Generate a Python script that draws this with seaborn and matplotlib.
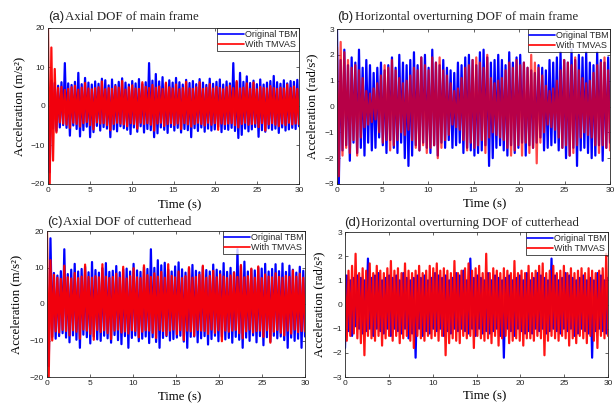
import matplotlib
matplotlib.use("Agg")
import matplotlib.pyplot as plt
import numpy as np
import seaborn as sns

# ---- data (150 samples over 0-30 s) ----
n_samples = 150
time_s = np.linspace(0, 30, n_samples)

axial_frame_orig = [
    0.0, -17.0, 6.5, -5.8, 5.9, -6.4, 5.2, -5.5, 6.1, -4.9, 11.0, -5.6, 5.8, -7.6, 5.4,
    -5.0, 6.2, -5.9, 8.5, -7.8, 5.6, -6.2, 7.2, -5.3, 6.0, -8.0, 5.5, -6.7, 6.3, -5.1,
    5.7, -6.3, 7.0, -5.4, 6.6, -5.8, 5.3, -8.0, 6.8, -6.0, 5.4, -6.5, 6.2, -5.2, 7.1,
    -5.7, 6.0, -6.1, 5.5, -7.2, 6.4, -5.5, 5.8, -6.6, 6.9, -5.2, 5.6, -6.8, 6.1, -5.9,
    11.0, -6.2, 6.5, -8.0, 8.2, -7.0, 6.3, -5.5, 7.4, -6.1, 5.7, -6.9, 6.6, -5.4, 6.0,
    -6.3, 7.2, -5.6, 6.1, -6.8, 5.5, -5.9, 6.7, -6.2, 5.9, -8.0, 6.4, -5.7, 5.6, -6.4,
    6.9, -5.5, 6.0, -6.6, 5.4, -5.8, 7.0, -6.3, 5.7, -6.0, 6.2, -5.3, 6.8, -6.7, 5.5,
    -5.9, 6.3, -6.1, 5.8, -5.6, 11.0, -6.4, 6.1, -8.2, 8.5, -7.4, 6.2, -5.8, 7.6, -6.5,
    5.9, -6.0, 6.5, -5.4, 5.6, -7.9, 6.8, -6.2, 5.5, -6.6, 6.0, -5.7, 6.4, -6.1, 7.7,
    -5.8, 6.1, -6.9, 5.7, -5.5, 6.6, -6.3, 5.8, -6.0, 6.4, -5.6, 6.2, -5.9, 6.7, -5.2,
]
axial_frame_tmvas = [
    20.0, -20.0, 15.0, -14.0, 9.5, -6.8, 4.6, -4.2, 4.9, -4.5, 4.1, -4.8, 4.4, -5.6, 4.8,
    -4.3, 5.2, -4.6, 4.2, -5.3, 4.7, -4.4, 5.9, -4.1, 4.5, -4.9, 4.3, -6.0, 4.6, -4.2,
    4.8, -4.5, 6.3, -4.4, 4.3, -4.9, 4.6, -6.2, 4.4, -4.6, 5.0, -4.3, 4.7, -4.5, 6.4,
    -4.7, 4.2, -5.2, 4.8, -4.4, 5.3, -4.6, 4.5, -5.8, 4.4, -4.3, 6.1, -4.6, 4.9, -4.4,
    4.6, -4.8, 5.4, -6.3, 4.7, -4.5, 5.0, -4.3, 4.4, -5.1, 6.0, -4.6, 4.8, -4.4, 4.5,
    -4.9, 5.5, -4.5, 4.3, -5.9, 4.6, -4.4, 6.2, -4.7, 4.5, -5.3, 4.4, -4.6, 4.8, -4.3,
    6.1, -4.6, 4.4, -5.0, 4.7, -4.3, 5.6, -4.8, 4.5, -4.4, 4.9, -6.1, 4.6, -4.5, 4.3,
    -4.7, 4.8, -4.5, 5.2, -4.4, 4.6, -4.9, 6.4, -5.5, 4.5, -4.6, 4.7, -4.3, 5.8, -4.8,
    4.4, -4.6, 6.0, -4.5, 4.3, -5.4, 4.9, -4.4, 4.6, -6.3, 4.5, -4.7, 5.1, -4.4, 4.6,
    -4.8, 4.4, -5.2, 4.7, -4.5, 4.5, -4.9, 5.5, -4.3, 4.6, -4.7, 5.0, -4.5, 4.4, -4.6,
]

horiz_frame_orig = [
    3.0, -3.0, 1.8, -1.7, 2.2, -1.5, 1.6, -2.1, 1.9, -1.4, 1.7, -1.8, 2.2, -1.6, 1.5,
    -1.9, 1.8, -1.4, 1.6, -1.7, 1.3, -1.6, 1.5, -1.2, 1.7, -1.5, 1.4, -1.8, 1.6, -1.3,
    1.9, -1.6, 1.5, -1.8, 2.0, -1.4, 1.7, -2.0, 1.6, -2.3, 1.8, -1.9, 2.1, -1.5, 1.6,
    -1.7, 1.9, -1.4, 2.0, -1.6, 1.5, -1.8, 2.2, -1.5, 1.7, -1.9, 1.6, -1.4, 1.8, -1.6,
    1.5, -1.3, 1.4, -1.6, 1.3, -1.5, 1.7, -1.4, 1.6, -1.8, 1.9, -1.6, 2.0, -1.7, 1.8,
    -1.9, 1.6, -1.8, 2.1, -1.7, 2.2, -1.5, 1.9, -2.3, 1.7, -2.0, 1.8, -1.6, 2.0, -1.5,
    1.8, -1.7, 1.6, -1.9, 2.1, -1.5, 1.7, -1.8, 1.9, -1.6, 2.0, -1.4, 1.7, -1.9, 1.5,
    -1.5, 1.4, -1.6, 1.3, -1.4, 1.6, -1.2, 1.5, -1.7, 1.4, -1.6, 1.8, -1.5, 1.7, -1.4,
    1.9, -1.7, 2.1, -1.6, 1.8, -2.0, 1.7, -1.9, 2.2, -1.6, 1.8, -2.3, 2.0, -1.7, 1.9,
    -1.6, 2.1, -1.8, 1.7, -2.0, 1.6, -1.9, 2.1, -1.5, 1.8, -2.1, 1.7, -1.6, 1.9, -1.4,
]
horiz_frame_tmvas = [
    2.3, -2.7, 2.5, -1.9, 2.1, -1.6, 1.8, -1.8, 1.5, -1.3, 1.6, -1.9, 1.4, -1.2, 1.1,
    -0.8, 0.6, -0.7, 0.5, -0.6, 0.7, -0.5, 0.9, -1.0, 1.2, -1.4, 1.6, -1.3, 1.5, -1.7,
    1.8, -1.5, 1.4, -1.3, 1.1, -1.0, 0.9, -1.1, 1.0, -0.9, 1.2, -1.3, 1.5, -1.6, 1.4,
    -1.7, 1.9, -1.5, 1.6, -1.8, 1.4, -1.6, 1.9, -1.5, 1.7, -2.0, 1.9, -1.6, 1.4, -1.3,
    1.2, -1.1, 0.9, -0.7, 0.6, -0.8, 0.7, -0.9, 1.1, -1.3, 1.5, -1.7, 1.6, -1.4, 1.8,
    -1.6, 1.9, -1.5, 1.7, -1.3, 1.5, -1.8, 2.0, -1.2, 1.1, -1.0, 0.9, -1.1, 1.0, -1.2,
    1.1, -1.3, 1.4, -1.6, 1.7, -1.9, 1.5, -1.7, 1.8, -1.5, 1.6, -1.9, 1.7, -1.4, 1.5,
    -1.8, 2.0, -1.6, 1.7, -2.2, 1.5, -1.4, 1.2, -1.0, 0.8, -0.7, 0.6, -0.8, 0.7, -0.9,
    1.0, -1.2, 1.4, -1.6, 1.8, -1.5, 1.7, -1.9, 1.6, -1.8, 1.9, -1.5, 1.4, -1.2, 1.1,
    -1.0, 0.9, -1.1, 1.0, -1.2, 1.3, -1.5, 1.6, -1.8, 1.7, -1.5, 1.9, -1.6, 1.4, -1.7,
]

axial_cutter_orig = [
    0.0, -17.0, 18.0, -9.0, 8.5, -9.5, 7.8, -8.8, 9.0, -8.0, 15.0, -9.2, 8.2, -10.5, 9.4,
    -8.6, 11.0, -9.8, 8.9, -12.0, 9.6, -8.4, 10.2, -9.1, 8.7, -10.8, 11.5, -8.9, 9.3, -9.7,
    8.6, -10.1, 9.8, -8.7, 11.2, -9.4, 8.8, -10.6, 9.1, -8.5, 10.4, -9.9, 8.7, -11.0, 9.5,
    -8.8, 9.7, -12.0, 8.9, -9.3, 11.0, -8.6, 9.2, -10.2, 8.8, -9.5, 10.1, -8.9, 9.6, -10.7,
    15.0, -9.1, 9.9, -10.4, 12.0, -12.0, 10.6, -9.3, 11.3, -8.8, 9.4, -10.0, 8.9, -9.6, 10.3,
    -9.2, 11.4, -8.7, 9.5, -10.3, 8.6, -12.0, 9.8, -9.0, 10.7, -8.9, 9.1, -10.5, 8.7, -9.4,
    10.2, -8.8, 9.3, -11.1, 8.9, -9.6, 10.8, -8.7, 9.4, -10.2, 9.0, -8.9, 11.2, -9.7, 8.8,
    -9.3, 9.9, -10.6, 8.7, -9.0, 15.0, -9.8, 10.4, -12.0, 11.6, -9.2, 8.9, -10.1, 9.5, -8.6,
    9.2, -10.5, 10.0, -8.8, 9.7, -11.3, 11.0, -9.1, 8.9, -10.3, 9.6, -8.7, 10.9, -9.4, 9.0,
    -8.9, 11.1, -9.9, 8.8, -12.0, 10.5, -9.2, 9.4, -10.1, 8.6, -9.5, 10.2, -12.0, 9.1, -8.9,
]
axial_cutter_tmvas = [
    20.0, -20.0, 12.0, -10.0, 8.0, -7.5, 7.2, -7.8, 6.9, -7.1, 10.5, -7.4, 7.3, -8.6, 7.0,
    -7.2, 8.5, -7.6, 7.1, -9.5, 7.5, -7.0, 10.8, -7.3, 7.4, -8.2, 7.2, -9.8, 7.6, -7.1,
    7.3, -7.7, 10.9, -7.2, 7.5, -8.0, 7.1, -9.6, 7.4, -7.3, 8.3, -7.0, 7.2, -7.8, 10.2,
    -7.5, 7.0, -8.1, 7.6, -7.2, 9.8, -7.4, 7.3, -9.1, 7.1, -7.6, 10.6, -7.2, 7.9, -7.3,
    7.4, -7.9, 8.4, -9.3, 7.5, -7.1, 8.8, -7.4, 7.2, -8.5, 10.9, -7.3, 7.7, -7.0, 7.3,
    -8.3, 8.9, -7.2, 7.1, -9.9, 7.6, -7.3, 10.1, -7.5, 7.2, -8.7, 7.4, -7.1, 8.0, -7.3,
    10.5, -7.4, 7.2, -8.2, 7.7, -7.0, 9.1, -7.9, 7.3, -7.2, 8.1, -10.2, 7.5, -7.3, 7.1,
    -7.6, 7.8, -7.3, 8.6, -7.1, 7.4, -8.0, 10.7, -9.4, 7.3, -7.5, 7.6, -7.0, 9.7, -7.8,
    7.2, -7.4, 10.3, -7.3, 7.1, -9.0, 8.1, -7.2, 7.5, -10.6, 7.3, -7.6, 8.4, -7.1, 7.4,
    -7.9, 7.2, -8.6, 7.7, -7.3, 7.4, -8.1, 9.2, -7.0, 7.5, -7.7, 8.3, -7.4, 7.2, -7.5,
]

horiz_cutter_orig = [
    -1.8, 1.2, -1.1, 1.0, -1.3, 1.1, -0.9, 1.2, -1.0, 1.1, -1.2, 1.0, -1.1, 1.9, -1.0,
    1.1, -1.3, 1.2, -1.0, 1.3, -1.1, 1.0, -1.2, 1.1, -1.0, 1.2, -1.3, 1.1, -1.0, 1.2,
    -1.1, 1.0, -1.2, 1.3, -1.0, 1.1, -1.4, 1.0, -1.2, 1.1, -2.2, 1.2, -1.0, 1.1, -1.3,
    1.2, -1.1, 1.0, -1.2, 1.1, -1.0, 1.3, -1.1, 1.2, -1.0, 1.1, -1.3, 1.2, -1.1, 1.0,
    -1.2, 1.1, -1.0, 1.3, -1.1, 1.2, -1.0, 1.4, -1.1, 1.0, -1.2, 1.9, -1.0, 1.1, -1.3,
    1.2, -1.0, 1.1, -1.2, 1.0, -1.1, 1.3, -1.2, 1.0, -1.1, 1.2, -1.0, 1.1, -1.3, 1.0,
    -2.2, 1.1, -1.0, 1.2, -1.1, 1.0, -1.3, 1.1, -1.0, 1.2, -1.1, 1.0, -1.2, 1.3, -1.1,
    1.0, -1.2, 1.1, -1.0, 1.3, -1.1, 1.2, -1.0, 1.1, -1.2, 1.0, -1.1, 1.9, -1.0, 1.2,
    -1.1, 1.0, -1.2, 1.1, -1.0, 1.3, -1.1, 1.2, -1.0, 1.1, -1.3, 1.0, -1.2, 1.1, -1.0,
    1.2, -1.1, 1.0, -1.2, 1.1, -2.2, 1.0, -1.1, 1.3, -1.0, 1.2, -1.1, 1.0, -1.2, 1.1,
]
horiz_cutter_tmvas = [
    1.2, -1.5, 1.4, -1.3, 1.6, -1.2, 2.1, -1.4, 1.3, -1.6, 1.5, -2.1, 1.4, -1.3, 1.7,
    -1.4, 1.3, -1.5, 1.6, -1.3, 1.4, -1.7, 1.3, -1.4, 1.5, -1.3, 1.8, -1.5, 1.4, -1.3,
    1.5, -1.6, 1.3, -1.4, 1.7, -1.3, 1.4, -1.5, 1.3, -1.8, 1.4, -1.3, 1.6, -1.4, 1.3,
    -1.5, 1.4, -1.3, 1.6, -1.4, 1.5, -1.3, 1.7, -1.5, 1.4, -1.3, 1.5, -2.1, 1.4, -1.6,
    1.3, -1.4, 1.8, -1.5, 1.3, -1.6, 1.4, -1.3, 1.5, -1.4, 1.7, -1.3, 1.4, -1.8, 1.5,
    -1.3, 1.6, -1.4, 1.3, -1.5, 2.1, -1.4, 1.3, -1.6, 1.5, -1.3, 1.4, -1.7, 1.3, -1.4,
    1.5, -1.3, 1.4, -1.6, 1.3, -1.5, 1.8, -1.4, 1.3, -1.5, 1.4, -1.7, 1.3, -1.4, 1.6,
    -1.4, 1.3, -1.5, 1.4, -1.3, 1.6, -1.4, 1.7, -2.1, 1.3, -1.5, 1.4, -1.3, 1.6, -1.4,
    1.3, -1.5, 1.4, -1.3, 1.6, -1.4, 1.3, -1.7, 1.5, -1.4, 1.3, -1.6, 1.4, -1.3, 1.5,
    -1.4, 1.3, -1.6, 1.5, -1.3, 1.4, -1.5, 1.3, -1.8, 1.4, -1.3, 1.5, -1.4, 2.1, -1.3,
]

x_ticks = [0, 5, 10, 15, 20, 25, 30]
y_ticks_lin = [-20, -10, 0, 10, 20]
y_ticks_rot = [-3, -2, -1, 0, 1, 2, 3]

W, H = 614, 404


def box(l, t, r, b):
    return [l / W, 1 - b / H, (r - l) / W, (b - t) / H]


panels = [
    # letter, title, ylabel, orig, tmvas, yticks, axes box (px), title pos (px), ylab x, xlab x, red alpha
    ("(a)", "Axial DOF of main frame", "Acceleration (m/s²)",
     axial_frame_orig, axial_frame_tmvas, y_ticks_lin, (48, 28, 299, 184), (48, 65, 17), -0.092, 0.526, 0.95),
    ("(b)", "Horizontal overturning DOF of main frame", "Acceleration (rad/s²)",
     horiz_frame_orig, horiz_frame_tmvas, y_ticks_rot, (337, 29, 610, 184), (337, 355, 17), -0.07, 0.54, 0.72),
    ("(c)", "Axial DOF of cutterhead", "Acceleration (m/s²)",
     axial_cutter_orig, axial_cutter_tmvas, y_ticks_lin, (47, 231, 305, 377), (47, 63, 222), -0.097, 0.515, 0.95),
    ("(d)", "Horizontal overturning DOF of cutterhead", "Acceleration (rad/s²)",
     horiz_cutter_orig, horiz_cutter_tmvas, y_ticks_rot, (345, 232, 608, 377), (344, 361, 223), -0.076, 0.53, 0.92),
]

sns.set_theme(style="ticks")
plt.rcParams["font.family"] = ["Liberation Sans", "DejaVu Sans"]

fig = plt.figure(figsize=(W / 100, H / 100), dpi=100)

for letter, title, ylab, orig, tmvas, yticks, bx, tpos, ylx, xlx, red_alpha in panels:
    ax = fig.add_axes(box(*bx))
    sns.lineplot(x=time_s, y=orig, ax=ax, color="#0000ff", linewidth=1.6,
                 estimator=None, sort=False, label="Original TBM")
    sns.lineplot(x=time_s, y=tmvas, ax=ax, color="#ff0000", linewidth=1.6, alpha=red_alpha,
                 estimator=None, sort=False, label="With TMVAS")
    ax.set_xlim(0, 30)
    ax.set_ylim(yticks[0], yticks[-1])
    ax.set_xticks(x_ticks)
    ax.set_yticks(yticks)
    ax.tick_params(direction="in", length=2, width=0.5, labelsize=6, colors="#262626",
                   top=True, right=True, pad=2)
    for sp in ax.spines.values():
        sp.set_visible(True)
        sp.set_linewidth(0.6)
        sp.set_color("#262626")
    ax.set_xlabel("Time (s)", family="Liberation Serif", fontsize=9.2, color="black")
    ax.set_ylabel(ylab, family="Liberation Serif", fontsize=9.2, color="black")
    ax.xaxis.set_label_coords(xlx, -0.095)
    ax.yaxis.set_label_coords(ylx, 0.5)
    leg = ax.legend(loc="upper right", fontsize=6.5, frameon=True, fancybox=False,
                    edgecolor="black", borderaxespad=0, borderpad=0.2, labelspacing=0.1,
                    handlelength=2.8, handletextpad=0.1)
    leg.get_frame().set_linewidth(0.6)
    for h in leg.legend_handles:
        h.set_alpha(1)
        h.set_linewidth(1.2)

    lx, tx, ty = tpos
    fig.text(lx / W, 1 - ty / H, letter, fontsize=9.5, va="center", ha="left",
             family="Liberation Sans")
    fig.text(tx / W, 1 - ty / H, title, fontsize=9.3, va="center", ha="left",
             family="Liberation Serif")

fig.savefig("out.png", dpi=100, facecolor="white")
